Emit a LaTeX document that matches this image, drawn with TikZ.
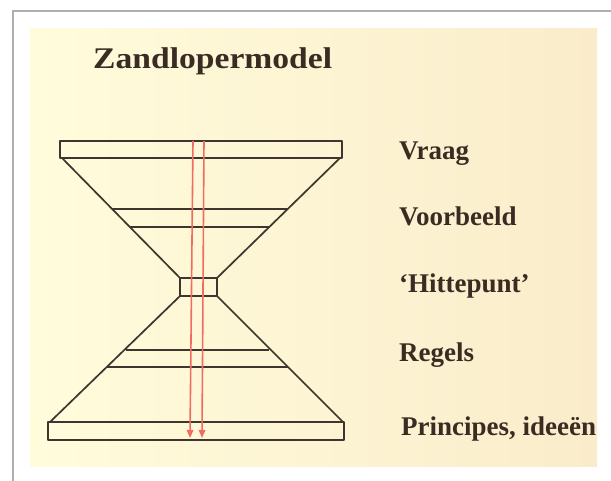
\documentclass[tikz,border=0pt]{standalone}
\usepackage{fontspec}
\setmainfont{Liberation Serif}
\usetikzlibrary{arrows.meta}
\definecolor{creamlight}{RGB}{255,252,220}
\definecolor{creamdark}{RGB}{250,236,202}
\definecolor{inkline}{RGB}{62,54,46}
\definecolor{inktext}{RGB}{58,44,34}
\definecolor{arrowred}{RGB}{240,108,98}
\definecolor{framegray}{RGB}{175,175,175}
\begin{document}
\begin{tikzpicture}[x=1pt,y=-1pt,
  outline/.style={draw=inkline,line width=1.7pt,line join=round},
  flow/.style={draw=arrowred,line width=1.6pt,-{Triangle[width=6.5pt,length=8pt]}},
  level/.style={anchor=base west,inner sep=0pt,text=inktext,
    font=\bfseries\fontsize{27}{30}\selectfont}]
  \useasboundingbox (0,0) rectangle (611,481);
  \fill[white] (0,0) rectangle (611,481);
  \draw[framegray,line width=2pt] (13,481) -- (13,11) -- (611,11);
  \shade[left color=creamlight,right color=creamdark] (30,29) rectangle (597,466);
  % title
  \node[level,font=\bfseries\fontsize{30}{34}\selectfont,xscale=1.12] (title) at (93,69) {Zandlopermodel};
  % upper half
  \draw[outline] (60,141) rectangle (342,158);
  \draw[outline] (62,158) -- (180,278);
  \draw[outline] (340,158) -- (217,278);
  \draw[outline] (112,209) -- (288,209);
  \draw[outline] (130,227) -- (270,227);
  % neck
  \draw[outline] (180,278) rectangle (217,296);
  % lower half
  \draw[outline] (180,296) -- (50,422);
  \draw[outline] (217,296) -- (343,422);
  \draw[outline] (126,350) -- (269,350);
  \draw[outline] (107,367) -- (288,367);
  \draw[outline] (48,422) rectangle (344,440);
  % flow through the glass
  \coordinate (inA) at (193,141);
  \coordinate (inB) at (204,141);
  \coordinate (outA) at (190,438);
  \coordinate (outB) at (202,438);
  \draw[flow] (inA) -- (outA);
  \draw[flow] (inB) -- (outB);
  % levels
  \begin{scope}
    \clip (30,29) rectangle (597,466);
    \node[level] (vraag) at (399,160) {Vraag};
    \node[level] (voorbeeld) at (399,226) {Voorbeeld};
    \node[level] (hittepunt) at (399,293) {‘Hittepunt’};
    \node[level] (regels) at (399,362) {Regels};
    \node[level] (principes) at (401,435) {Principes, ideeën};
  \end{scope}
\end{tikzpicture}
\end{document}
